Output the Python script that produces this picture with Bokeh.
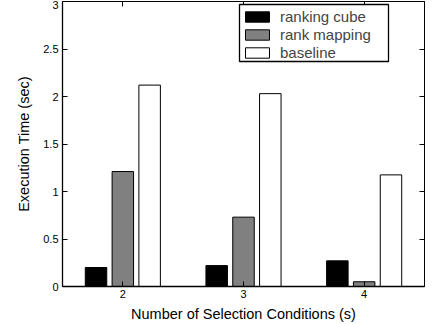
from bokeh.plotting import figure
from bokeh.models import ColumnDataSource, Range1d, FixedTicker, LinearAxis, Legend, LegendItem, BoxAnnotation
from bokeh.transform import dodge
from bokeh.embed import file_html
from bokeh.resources import INLINE

conditions = [2, 3, 4]
ranking_cube = [0.20, 0.22, 0.27]
rank_mapping = [1.21, 0.73, 0.05]
baseline = [2.12, 2.03, 1.175]
series_names = ["ranking cube", "rank mapping", "baseline"]
x_ticks = [2, 3, 4]
x_tick_labels = ["2", "3", "4"]
y_ticks = [0, 0.5, 1, 1.5, 2, 2.5, 3]
y_tick_labels = ["0", "0.5", "1", "1.5", "2", "2.5", "3"]

FONT = "Liberation Sans"

source = ColumnDataSource(dict(x=conditions, rc=ranking_cube, rm=rank_mapping, bl=baseline))

p = figure(width=437, height=324, output_backend="svg", toolbar_location=None,
           x_range=Range1d(1.5, 4.5), y_range=Range1d(0, 3),
           min_border_left=62, min_border_right=13, min_border_top=1, min_border_bottom=38)
p.xgrid.visible = False
p.ygrid.visible = False
p.outline_line_color = "black"
p.outline_line_width = 1
p.background_fill_color = "white"
p.border_fill_color = "white"

bw = 0.178
off = 0.2222
r1 = p.vbar(x=dodge("x", -off, range=p.x_range), top="rc", width=bw, source=source,
            fill_color="black", line_color="black", line_width=1)
r2 = p.vbar(x=dodge("x", 0, range=p.x_range), top="rm", width=bw, source=source,
            fill_color="#808080", line_color="black", line_width=1)
r3 = p.vbar(x=dodge("x", off, range=p.x_range), top="bl", width=bw, source=source,
            fill_color="white", line_color="black", line_width=1)

def style_axis(ax):
    ax.major_tick_in = 5
    ax.major_tick_out = 0
    ax.minor_tick_in = 0
    ax.minor_tick_out = 0
    ax.axis_line_color = "black"
    ax.axis_line_width = 1.3
    ax.major_tick_line_color = "black"
    ax.major_label_text_font = FONT
    ax.major_label_text_color = "black"
    ax.major_label_text_font_size = "11px"
    ax.axis_label_text_font = FONT
    ax.axis_label_text_font_size = "14.5px"
    ax.axis_label_text_font_style = "normal"
    ax.axis_label_text_color = "black"

xa = p.xaxis[0]
xa.ticker = FixedTicker(ticks=x_ticks)
xa.major_label_overrides = dict(zip(x_ticks, x_tick_labels))
xa.axis_label = "Number of Selection Conditions (s)"
style_axis(xa)
xa.major_label_standoff = 3
xa.axis_label_standoff = 5

ya = p.yaxis[0]
ya.ticker = FixedTicker(ticks=y_ticks)
ya.major_label_overrides = dict(zip(y_ticks, y_tick_labels))
ya.axis_label = "Execution Time (sec)"
style_axis(ya)
ya.major_label_standoff = 4
ya.axis_label_standoff = 8

top_ax = LinearAxis(ticker=FixedTicker(ticks=x_ticks))
style_axis(top_ax)
top_ax.major_label_overrides = {t: "" for t in x_ticks}
top_ax.major_label_standoff = 0
top_ax.axis_line_width = 1
p.add_layout(top_ax, "above")

right_ax = LinearAxis(ticker=FixedTicker(ticks=y_ticks))
style_axis(right_ax)
right_ax.major_label_overrides = {t: "" for t in y_ticks}
right_ax.major_label_standoff = 0
right_ax.axis_line_width = 1
p.add_layout(right_ax, "right")

# legend frame (screen pixels, measured from the frame's lower-left corner)
frame_box = BoxAnnotation(left=177, right=326, top=282, bottom=225,
                          left_units="screen", right_units="screen",
                          top_units="screen", bottom_units="screen",
                          fill_color="white", fill_alpha=1,
                          line_color="black", line_width=1.3, line_alpha=1)
p.add_layout(frame_box)

legend = Legend(items=[LegendItem(label=series_names[0], renderers=[r1]),
                       LegendItem(label=series_names[1], renderers=[r2]),
                       LegendItem(label=series_names[2], renderers=[r3])],
                location=(175, 220))
legend.label_text_font = FONT
legend.label_text_font_size = "15px"
legend.label_height = 18
legend.glyph_height = 13
legend.glyph_width = 30
legend.spacing = 0
legend.padding = 5
legend.margin = 0
legend.label_standoff = 8
legend.border_line_alpha = 0
legend.background_fill_alpha = 0
p.add_layout(legend, "center")

open("out.html", "w").write(file_html(p, INLINE))
